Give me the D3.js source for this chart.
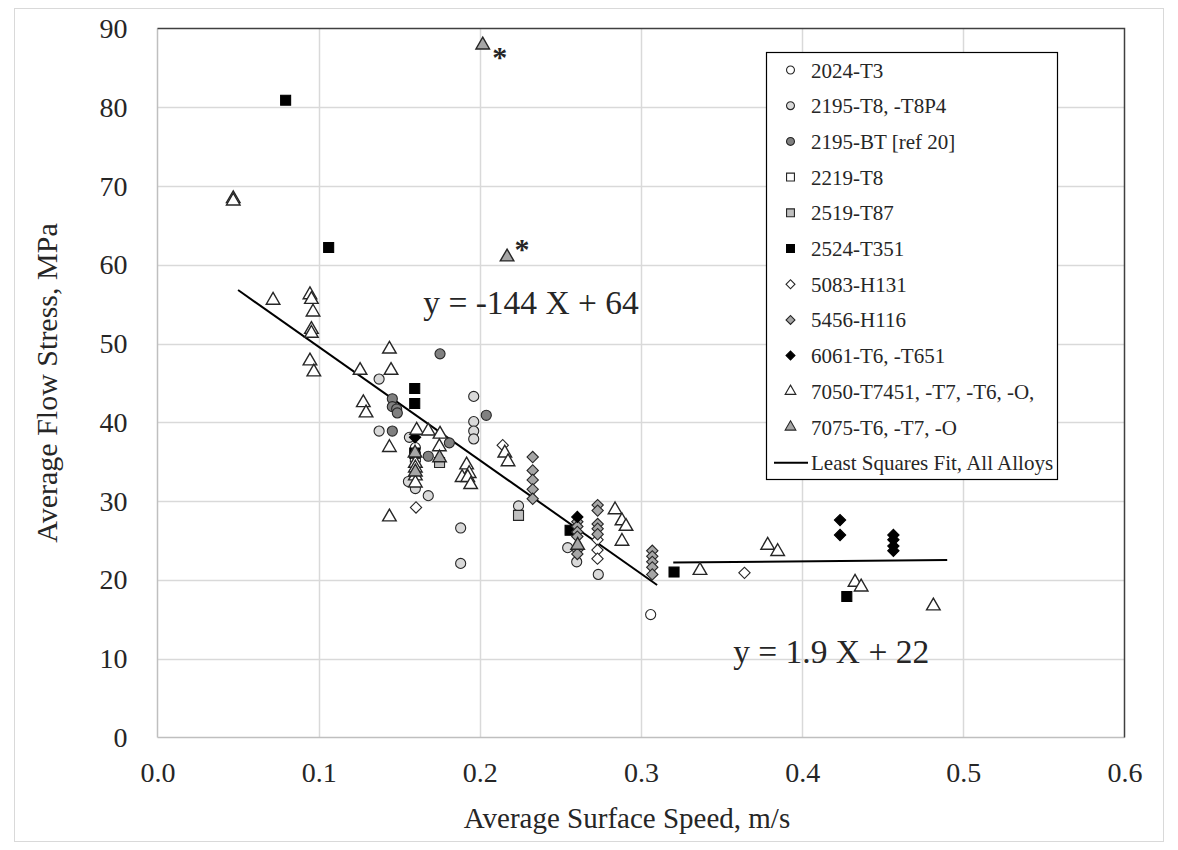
<!DOCTYPE html>
<html>
<head>
<meta charset="utf-8">
<script src="https://cdnjs.cloudflare.com/ajax/libs/d3/7.8.5/d3.min.js"></script>
<style>
  body { margin: 0; background: #fff; }
  text { font-family: "Liberation Serif", "DejaVu Serif", serif; fill: #262626; }
</style>
</head>
<body>
<svg id="chart" width="1178" height="850"></svg>
<script>
// valores: [velocidade m/s, tensão MPa]
const a2024 = [[0.306, 15.6], [0.160, 36.8]];
const a2195T8 = [[0.1375, 45.5], [0.1375, 38.9], [0.1962, 43.3], [0.1962, 40.1], [0.1962, 38.9], [0.1962, 37.9],
  [0.1563, 38.1], [0.1557, 32.5], [0.160, 31.6], [0.168, 30.7], [0.1881, 26.6], [0.1881, 22.1],
  [0.224, 29.4], [0.2545, 24.1], [0.2601, 22.3], [0.2735, 20.7]];
const a2195BT = [[0.1753, 48.7], [0.1457, 43.0], [0.1457, 42.0], [0.1484, 41.7], [0.1488, 41.2], [0.204, 40.9],
  [0.1457, 38.9], [0.1811, 37.4], [0.168, 35.7]];
const a2219 = [[0.160, 35.6]];
const a2519 = [[0.224, 28.2], [0.175, 34.9]];
const a2524 = [[0.0795, 80.9], [0.1062, 62.2], [0.1596, 44.3], [0.1596, 42.4], [0.1596, 36.1], [0.256, 26.3],
  [0.3205, 21.0], [0.4277, 17.9]];
const a5083 = [[0.1604, 29.2], [0.2142, 37.1], [0.273, 25.1], [0.273, 23.8], [0.273, 22.7], [0.3642, 20.9]];
const a5456 = [[0.2328, 35.6], [0.2328, 33.9], [0.2328, 32.7], [0.2328, 31.5], [0.2328, 30.3],
  [0.2605, 27.4], [0.2605, 26.8], [0.2605, 26.1], [0.2605, 25.5], [0.2605, 23.8], [0.2605, 23.3],
  [0.2731, 29.5], [0.2731, 28.8], [0.2731, 27.1], [0.2731, 26.5], [0.2731, 25.8],
  [0.307, 23.7], [0.307, 23.0], [0.307, 22.3], [0.307, 21.6], [0.307, 20.7]];
const a6061 = [[0.1598, 38.1], [0.2605, 28.0], [0.4235, 27.6], [0.4235, 25.7], [0.4566, 25.7], [0.4566, 25.1],
  [0.4566, 24.3], [0.4566, 23.7]];
const a7050 = [[0.047, 68.4], [0.047, 68.1], [0.0717, 55.5], [0.0946, 56.2], [0.0955, 55.6], [0.0965, 54.0],
  [0.0955, 51.8], [0.0955, 51.3], [0.0946, 47.8], [0.097, 46.4], [0.1257, 46.6], [0.1439, 49.3], [0.1449, 46.6],
  [0.1277, 42.5], [0.1294, 41.2], [0.1608, 39.0], [0.168, 38.9], [0.1753, 38.5], [0.1439, 36.8],
  [0.1749, 36.9], [0.160, 34.8], [0.160, 34.2], [0.160, 33.2], [0.160, 32.3], [0.1918, 34.6],
  [0.1934, 33.5], [0.189, 33.0], [0.1925, 33.0], [0.1943, 32.1], [0.1439, 28.0], [0.2155, 36.1],
  [0.2175, 35.0], [0.2839, 28.9], [0.2882, 27.5], [0.2907, 26.8], [0.2882, 24.9], [0.3366, 21.2],
  [0.3786, 24.4], [0.3848, 23.6], [0.4328, 19.7], [0.4366, 19.1], [0.4814, 16.7]];
const a7075 = [[0.2018, 87.9], [0.2169, 61.0], [0.1598, 36.1], [0.160, 33.7], [0.175, 35.5], [0.2607, 24.4]];

const seriesNames = ["2024-T3", "2195-T8, -T8P4", "2195-BT [ref 20]", "2219-T8", "2519-T87", "2524-T351",
  "5083-H131", "5456-H116", "6061-T6, -T651", "7050-T7451, -T7, -T6, -O,", "7075-T6, -T7, -O"];
const seriesData = [a2024, a2195T8, a2195BT, a2219, a2519, a2524, a5083, a5456, a6061, a7050, a7075];

// ajustes por mínimos quadrados: [x inicial, x final, inclinação, intercepto]
const fitLow = [0.05, 0.31, -144, 64];
const fitHigh = [0.32, 0.49, 1.9, 21.6];
const fitLabels = ["y = -144 X + 64", "y = 1.9 X + 22"];
const outliers = [[0.2018, 87.9], [0.2169, 61.0]];

const xTicks = [0, 0.1, 0.2, 0.3, 0.4, 0.5, 0.6];
const yTicks = [0, 10, 20, 30, 40, 50, 60, 70, 80, 90];

// estilo de cada série
const styles = [
  { shape: "circle", fill: "#ffffff" },
  { shape: "circle", fill: "#d9d9d9" },
  { shape: "circle", fill: "#808080" },
  { shape: "square", fill: "#ffffff" },
  { shape: "square", fill: "#bfbfbf" },
  { shape: "square", fill: "#000000" },
  { shape: "diamond", fill: "#ffffff" },
  { shape: "diamond", fill: "#a6a6a6" },
  { shape: "diamond", fill: "#000000" },
  { shape: "triangle", fill: "#ffffff" },
  { shape: "triangle", fill: "#a6a6a6" }
];

const svg = d3.select("#chart");
const plotL = 157.5, plotR = 1124.5, plotT = 28.5, plotB = 737.5;

const x = d3.scaleLinear().domain([0, 0.6]).range([plotL, plotR]);
const y = d3.scaleLinear().domain([0, 90]).range([plotB, plotT]);

// borda externa do gráfico
svg.append("rect")
  .attr("x", 14.5).attr("y", 8.5).attr("width", 1149).attr("height", 833)
  .attr("fill", "none").attr("stroke", "#d9d9d9");

// grade
svg.append("g").selectAll("line")
  .data(yTicks.slice(1, -1))
  .enter().append("line")
  .attr("x1", plotL).attr("x2", plotR)
  .attr("y1", d => Math.round(y(d)) + 0.5).attr("y2", d => Math.round(y(d)) + 0.5)
  .attr("stroke", "#d9d9d9").attr("stroke-width", 1.5);

svg.append("g").selectAll("line")
  .data(xTicks.slice(1, -1))
  .enter().append("line")
  .attr("y1", plotT).attr("y2", plotB)
  .attr("x1", d => Math.round(x(d)) + 0.5).attr("x2", d => Math.round(x(d)) + 0.5)
  .attr("stroke", "#d9d9d9").attr("stroke-width", 1.5);

// eixos (linhas claras) e borda da área de plotagem (escura)
svg.append("line").attr("x1", plotL).attr("x2", plotL).attr("y1", plotT).attr("y2", plotB)
  .attr("stroke", "#bfbfbf").attr("stroke-width", 1.5);
svg.append("line").attr("x1", plotL).attr("x2", plotR).attr("y1", plotB).attr("y2", plotB)
  .attr("stroke", "#bfbfbf").attr("stroke-width", 1.5);
svg.append("path")
  .attr("d", `M${plotL},${plotT}H${plotR}V${plotB}`)
  .attr("fill", "none").attr("stroke", "#404040").attr("stroke-width", 1.5);

// rótulos dos eixos
const xAxis = d3.axisBottom(x).tickValues(xTicks).tickFormat(d3.format(".1f")).tickSize(0).tickPadding(25);
svg.append("g").attr("transform", `translate(0,${plotB})`).call(xAxis)
  .call(g => g.select(".domain").remove())
  .selectAll("text").style("font-size", "28px").style("font-family", "Liberation Serif").attr("fill", "#262626");

const yAxis = d3.axisLeft(y).tickValues(yTicks).tickFormat(d3.format("d")).tickSize(0).tickPadding(30);
svg.append("g").attr("transform", `translate(${plotL},0)`).call(yAxis)
  .call(g => g.select(".domain").remove())
  .selectAll("text").style("font-size", "28px").style("font-family", "Liberation Serif").attr("fill", "#262626");

svg.append("text")
  .attr("x", (plotL + plotR) / 2 - 14).attr("y", 828)
  .attr("text-anchor", "middle")
  .style("font-size", "29px")
  .text("Average Surface Speed, m/s");

svg.append("text")
  .attr("transform", `translate(57,${(plotT + plotB) / 2}) rotate(-90)`)
  .attr("text-anchor", "middle")
  .style("font-size", "30px")
  .text("Average Flow Stress, MPa");

// linhas de ajuste
const fitLine = d3.line().x(d => x(d[0])).y(d => y(d[1]));
[fitLow, fitHigh].forEach(f => {
  const pts = [[f[0], f[2] * f[0] + f[3]], [f[1], f[2] * f[1] + f[3]]];
  svg.append("path").attr("d", fitLine(pts))
    .attr("fill", "none").attr("stroke", "#000").attr("stroke-width", 2);
});

function symbolPath(shape, big) {
  const s = big ? 1 : 0.62;
  if (shape === "circle") return d3.symbol(d3.symbolCircle, 80 * s)();
  if (shape === "square") return d3.symbol(d3.symbolSquare, 100 * s)();
  if (shape === "diamond") return d3.symbol(d3.symbolSquare, 64 * s)();
  return d3.symbol(d3.symbolTriangle, 80 * s)();
}

// pontos
seriesData.forEach((data, i) => {
  const st = styles[i];
  svg.append("g").selectAll("path")
    .data(data)
    .enter().append("path")
    .attr("d", symbolPath(st.shape, true))
    .attr("transform", d => `translate(${x(d[0])},${y(d[1])})` + (st.shape === "diamond" ? " rotate(45)" : ""))
    .attr("fill", st.fill)
    .attr("stroke", st.fill === "#000000" ? "#000" : "#262626")
    .attr("stroke-width", st.shape === "triangle" ? 1.4 : 1.1);
});

// asteriscos nos pontos discrepantes
svg.append("g").selectAll("text")
  .data(outliers)
  .enter().append("text")
  .attr("x", (d, i) => x(d[0]) + (i === 0 ? 17 : 15))
  .attr("y", (d, i) => y(d[1]) + (i === 0 ? 22 : 2))
  .attr("text-anchor", "middle")
  .style("font-size", "30px")
  .style("font-weight", "bold")
  .text("*");

// equações
svg.append("text")
  .attr("x", x(0.2318)).attr("y", y(55.2) + 11)
  .attr("text-anchor", "middle").style("font-size", "33.5px")
  .text(fitLabels[0]);
svg.append("text")
  .attr("x", x(0.418)).attr("y", y(10.9) + 11)
  .attr("text-anchor", "middle").style("font-size", "33.5px")
  .text(fitLabels[1]);

// legenda
const legend = svg.append("g");
legend.append("rect")
  .attr("x", 766.5).attr("y", 52.5).attr("width", 291).attr("height", 427)
  .attr("fill", "#fff").attr("stroke", "#000").attr("stroke-width", 1.2);

const rowH = 35.7, firstRow = 70;
seriesNames.forEach((name, i) => {
  const st = styles[i];
  const cy = firstRow + i * rowH;
  legend.append("path")
    .attr("d", symbolPath(st.shape, false))
    .attr("transform", `translate(790.5,${cy})` + (st.shape === "diamond" ? " rotate(45)" : ""))
    .attr("fill", st.fill)
    .attr("stroke", st.fill === "#000000" ? "#000" : "#262626")
    .attr("stroke-width", 1.1);
  legend.append("text")
    .attr("x", 811).attr("y", cy + 7.5)
    .style("font-size", "21px")
    .text(name);
});
const lastY = firstRow + seriesNames.length * rowH;
legend.append("line")
  .attr("x1", 774).attr("x2", 808).attr("y1", lastY).attr("y2", lastY)
  .attr("stroke", "#000").attr("stroke-width", 2);
legend.append("text")
  .attr("x", 811).attr("y", lastY + 7.5)
  .style("font-size", "21px")
  .text("Least Squares Fit, All Alloys");
</script>
</body>
</html>
